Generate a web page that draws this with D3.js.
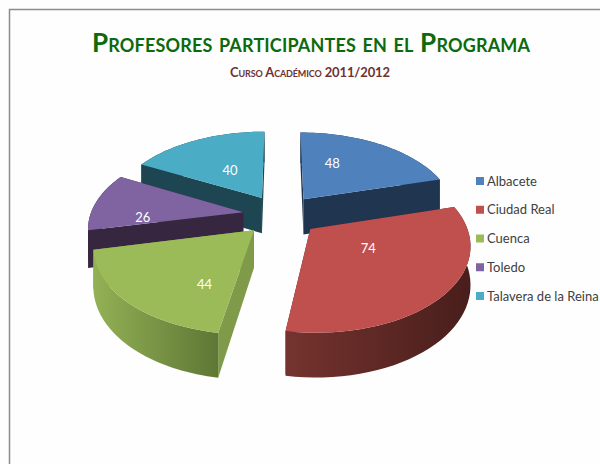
<!DOCTYPE html>
<html><head><meta charset="utf-8">
<script src="https://cdn.jsdelivr.net/npm/d3@7"></script>
<style>html,body{margin:0;padding:0;background:#fff}svg{display:block}text{font-family:Lato,"Open Sans",sans-serif}</style>
</head><body><svg id="c" width="600" height="464"></svg>
<script>
const categories = ["Albacete","Ciudad Real","Cuenca","Toledo","Talavera de la Reina"];
const values = [48,74,44,26,40];
const topColors = ["#4f81bd","#c0504d","#9bbb59","#8064a2","#4bacc6"];
const wallColors = ["#1f3550","#4f2220","#7f9a48","#37263f","#1d4552"];
const outerGradients = [["#1f3550","#1f3550"],["#75332f","#481e1b"],["#93b155","#5e7735"],["#37263f","#37263f"],["#1d4552","#1d4552"]];
const labelAlong = [0.32,0.41,0.24,0.17,0.49];
const labelRadius = [0.55,0.41,0.62,0.655,0.45];
const drawOrder = [4,0,3,1,2];

const cx=281, cy=215, R=153, A=82, K=0.16, E=0.25, H=36.5;
const svg=d3.select("#c");
svg.append("rect").attr("width",600).attr("height",464).attr("fill","#fefefe");
svg.append("path").attr("d","M9.5,464V9.5H600").attr("fill","none").attr("stroke","#8c8c8c").attr("stroke-width",1.5);

const arcs=d3.pie().sort(null).value(d=>d)(values);
function project(theta,r,mid,z){
  const u=r*Math.sin(theta)+E*Math.sin(mid), v=-r*Math.cos(theta)-E*Math.cos(mid);
  const s=1/(1-K*v);
  return [cx+R*u*s, cy+A*v*s+z*H*s];
}
const line=d3.line();
const defs=svg.append("defs");
drawOrder.forEach(i=>{
  const a=arcs[i], mid=(a.startAngle+a.endAngle)/2;
  const thetas=d3.range(0,41).map(t=>a.startAngle+(a.endAngle-a.startAngle)*t/40);
  const g=svg.append("g");
  const apex=project(0,0,mid,0), apexB=project(0,0,mid,1);
  [a.startAngle,a.endAngle].forEach(t=>{
    g.append("path").attr("d",line([apex,project(t,1,mid,0),project(t,1,mid,1),apexB])+"Z").attr("fill",wallColors[i]);
  });
  const topArc=thetas.map(t=>project(t,1,mid,0)), botArc=thetas.map(t=>project(t,1,mid,1));
  const ext=d3.extent(topArc,p=>p[0]);
  const gid="outer"+i;
  const lg=defs.append("linearGradient").attr("id",gid).attr("gradientUnits","userSpaceOnUse")
    .attr("x1",ext[0]).attr("x2",ext[1]).attr("y1",0).attr("y2",0);
  lg.append("stop").attr("offset",0).attr("stop-color",outerGradients[i][0]);
  lg.append("stop").attr("offset",1).attr("stop-color",outerGradients[i][1]);
  g.append("path").attr("d",line(topArc.concat(botArc.slice().reverse()))+"Z").attr("fill","url(#"+gid+")");
  g.append("path").attr("d",line([apex].concat(topArc))+"Z").attr("fill",topColors[i]);
});
arcs.forEach((a,i)=>{
  const mid=(a.startAngle+a.endAngle)/2;
  const p=project(a.startAngle+(a.endAngle-a.startAngle)*labelAlong[i],labelRadius[i],mid,0);
  svg.append("text").attr("x",p[0]).attr("y",p[1]).attr("dy","0.36em").attr("text-anchor","middle")
    .attr("font-size",13).attr("fill","#fff").text(values[i]);
});
svg.append("text").attr("x",92).attr("y",52).attr("textLength",438).attr("font-size",26).attr("font-weight",700)
  .style("font-variant","small-caps").attr("fill","#0c6a0c").text("Profesores participantes en el Programa");
svg.append("text").attr("x",230).attr("y",77).attr("textLength",160).attr("font-size",13).attr("font-weight",700)
  .style("font-variant","small-caps").attr("fill","#6e3232").text("Curso Académico 2011/2012");
const legY=d3.scalePoint().domain(categories).range([181,296]);
categories.forEach((c,i)=>{
  svg.append("rect").attr("x",476).attr("y",legY(c)-4).attr("width",8).attr("height",8).attr("fill",topColors[i]);
  svg.append("text").attr("x",487).attr("y",legY(c)).attr("dy","0.36em").attr("font-size",13).attr("fill","#404040").text(c);
});
</script></body></html>
